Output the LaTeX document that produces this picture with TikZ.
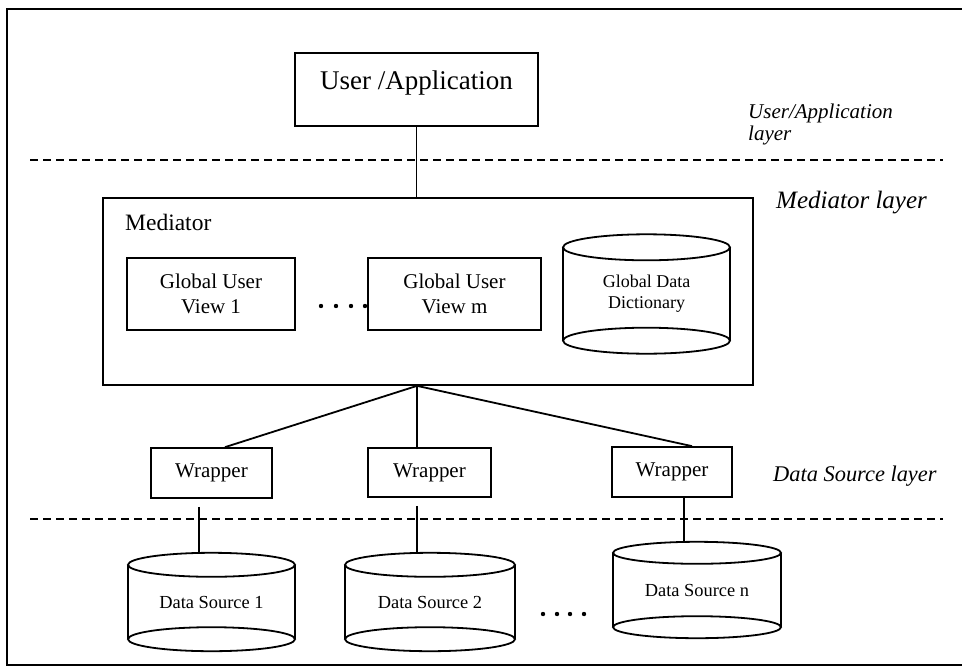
\documentclass[tikz,border=0pt]{standalone}
\usepackage{fontspec}
\setmainfont{Liberation Serif}
\newcommand{\drawdbcyl}[3]{%
  \draw[cylline] ([yshift=-#3]#1.north) ellipse [x radius=#2, y radius=#3];
  \draw[cylline] ([yshift=#3]#1.south) ellipse [x radius=#2, y radius=#3];
  \draw[cylline] ([yshift=-#3]#1.north west) -- ([yshift=#3]#1.south west);
  \draw[cylline] ([yshift=-#3]#1.north east) -- ([yshift=#3]#1.south east);
}
\begin{document}
\begin{tikzpicture}[x=1pt,y=-1pt,
  box/.style={draw, line width=1.7pt, rectangle, inner sep=0pt, align=center},
  cylnode/.style={rectangle, inner sep=0pt, align=center},
  cylline/.style={line width=1.8pt},
  conn/.style={line width=1.8pt},
  vline/.style={line width=1.2pt},
  layerline/.style={line width=1.8pt, dash pattern=on 8pt off 5pt},
  laylab/.style={anchor=base west, inner sep=0pt},
  frameline/.style={line width=1.5pt}
]
\useasboundingbox (0,0) rectangle (962,672);
% frame
\draw[frameline] (962,9) -- (7,9) -- (7,665) -- (962,665);
% layer separators
\coordinate (d1a) at (30,160);
\coordinate (d1b) at (943,160);
\coordinate (d2a) at (30,519);
\coordinate (d2b) at (943,519);
\draw[layerline] (d1a) -- (d1b);
\draw[layerline] (d2a) -- (d2b);
% user / application
\node[box, minimum width=243pt, minimum height=73pt, text height=19pt, text depth=19pt,
      font=\fontsize{27}{32}\selectfont] (ua) at (416.5,89.5) {User /Application};
% mediator
\node[box, minimum width=650pt, minimum height=187pt] (med) at (428,291.5) {};
\node[anchor=base west, inner sep=0pt, font=\fontsize{23.5}{28}\selectfont] (medlab) at (125,230) {Mediator};
\node[box, minimum width=168pt, minimum height=72pt, font=\fontsize{21}{25}\selectfont] (guv1) at (211,294) {Global User\\View 1};
\node[box, minimum width=173pt, minimum height=72pt, font=\fontsize{21}{25}\selectfont] (guvm) at (454.5,294) {Global User\\View m};
\foreach \x in {321,336,351,365} \fill (\x,306) circle[radius=2.2pt];
\node[cylnode, minimum width=167pt, minimum height=119pt, font=\fontsize{18}{21}\selectfont] (gdd) at (646.5,294) {Global Data\\Dictionary};
\drawdbcyl{gdd}{83.5pt}{13pt}
% wrappers
\node[box, minimum width=121pt, minimum height=50pt, font=\fontsize{21}{25}\selectfont] (w1) at (211.5,473) {Wrapper};
\node[box, minimum width=123pt, minimum height=49pt, font=\fontsize{21}{25}\selectfont] (w2) at (429.5,472.5) {Wrapper};
\node[box, minimum width=120pt, minimum height=50pt, font=\fontsize{21}{25}\selectfont] (w3) at (672,472) {Wrapper};
% data sources
\node[cylnode, minimum width=167pt, minimum height=98pt, font=\fontsize{18.4}{22}\selectfont] (ds1) at (211.5,602) {Data Source 1};
\drawdbcyl{ds1}{83.5pt}{12pt}
\node[cylnode, minimum width=170pt, minimum height=98pt, font=\fontsize{18.4}{22}\selectfont] (ds2) at (430,602) {Data Source 2};
\drawdbcyl{ds2}{85pt}{12pt}
\node[cylnode, minimum width=168pt, minimum height=96pt, font=\fontsize{18.4}{22}\selectfont] (dsn) at (697,590) {Data Source n};
\drawdbcyl{dsn}{84pt}{11pt}
\foreach \x in {543,557,570,584} \fill (\x,614) circle[radius=2.2pt];
% layer labels
\node[laylab, font=\itshape\fontsize{21}{25}\selectfont] (lab1a) at (748,118) {User/Application};
\node[laylab, font=\itshape\fontsize{21}{25}\selectfont] (lab1b) at (748,140) {layer};
\node[laylab, font=\itshape\fontsize{25}{30}\selectfont] (lab2) at (776,208) {Mediator layer};
\node[laylab, font=\itshape\fontsize{22.4}{27}\selectfont] (lab3) at (773,481) {Data Source layer};
% connectors
\draw[vline] (ua.south) -- (ua.south |- med.north);
\coordinate (mb) at ([xshift=-11pt]med.south);
\draw[conn] (mb) -- ([xshift=13.5pt]w1.north);
\draw[vline] (mb) -- ([xshift=-12.5pt]w2.north);
\draw[conn] (mb) -- ([xshift=20pt]w3.north);
\coordinate (w1b) at ([xshift=-12.5pt]w1.south);
\coordinate (w2b) at ([xshift=-12.5pt]w2.south);
\coordinate (w3b) at ([xshift=12pt]w3.south);
\draw[vline] ([yshift=-8pt]w1b) -- (w1b |- ds1.north);
\draw[vline] ([yshift=-8pt]w2b) -- (w2b |- ds2.north);
\draw[vline] (w3b) -- (w3b |- dsn.north);
\end{tikzpicture}
\end{document}
